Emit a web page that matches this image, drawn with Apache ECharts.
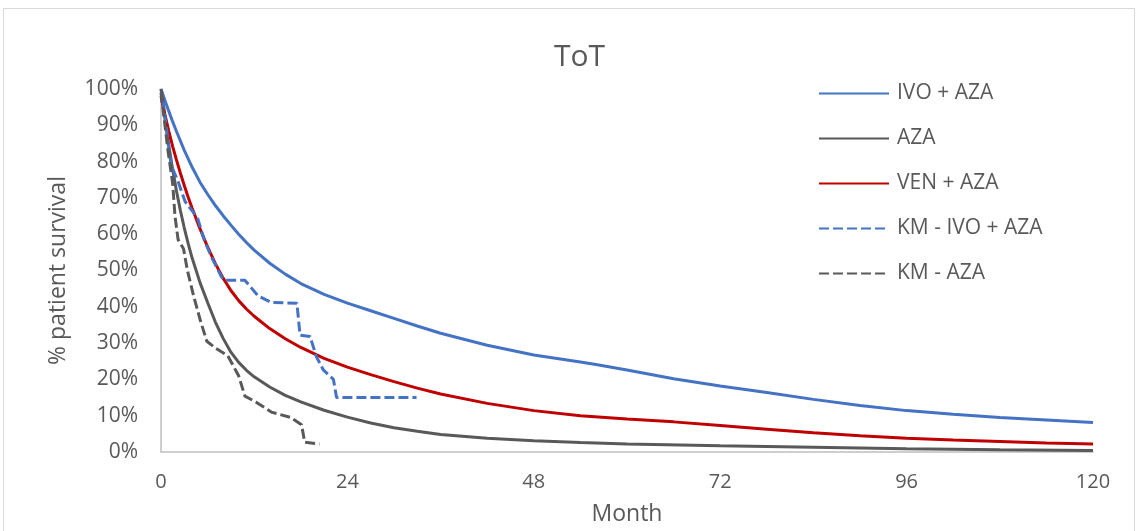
<!DOCTYPE html>
<html>
<head>
<meta charset="utf-8">
<script src="https://cdn.jsdelivr.net/npm/echarts@6/dist/echarts.min.js"></script>
<style>
html,body{margin:0;padding:0;background:#fff;}
#frame{position:absolute;left:3px;top:8px;width:1132px;height:540px;border:1px solid #d9d9d9;box-sizing:border-box;}
#chart{position:absolute;left:0;top:0;width:1139px;height:531px;}
</style>
</head>
<body>
<div id="frame"></div>
<div id="chart"></div>
<script>
// Month values (x) and % survival (y)
const ivoAzaMonths = [0,0.5,1,1.5,2,3,4,5,6,7,8,9,10,11,12,14,16,18,21,24,27,30,33,36,42,48,54,56,60,66,72,78,84,90,96,102,108,114,120];
const ivoAzaValues = [100,96.9,93.9,91,88.3,83.1,78.5,74.4,71,67.9,65.1,62.5,60,57.7,55.6,52,49,46.4,43.4,41,38.9,36.8,34.7,32.7,29.4,26.7,24.8,24.1,22.6,20.2,18.2,16.4,14.5,12.8,11.4,10.4,9.5,8.8,8.1];

const azaMonths = [0,0.5,1,1.5,2,2.5,3,3.5,4,5,6,7,8,9,10,11,12,14,16,18,21,24,27,30,33,36,42,48,54,60,72,84,96,108,120];
const azaValues = [100,92,84.5,77.8,71.8,66.5,61.7,57.4,53.5,46.8,41.2,35.8,31.3,27.5,24.7,22.5,20.7,17.9,15.6,13.8,11.5,9.6,8,6.7,5.7,4.8,3.8,3.1,2.6,2.2,1.7,1.3,0.9,0.6,0.4];

const venAzaMonths = [0,0.5,1,1.5,2,2.5,3,3.5,4,5,6,7,8,9,10,11,12,14,16,18,21,24,27,30,33,36,42,48,54,60,66,72,78,84,90,96,102,108,114,120];
const venAzaValues = [98,93,88.4,84.2,80.4,76.8,73.4,70.2,67.2,61.6,56.5,51.9,47.9,44.5,41.7,39.4,37.4,34,31.2,28.8,25.8,23.4,21.3,19.4,17.6,16,13.4,11.4,10,9.1,8.3,7.3,6.3,5.3,4.5,3.8,3.3,2.9,2.5,2.2];

const kmIvoAzaMonths = [0,0.3,1.3,2.2,3.1,4.7,5.6,6.5,7.8,8.2,10.8,12.5,14.2,17.5,17.9,19.2,20.0,20.9,22.2,22.6,32.9];
const kmIvoAzaValues = [97,96,79,74.5,69,64.5,58.2,53.7,48.2,47.3,47.3,43,41.2,41,32.2,31.8,26.3,22.6,20,15,15];

const kmAzaMonths = [0,0.9,1.5,1.8,2.2,2.9,3.4,4.2,5.1,5.9,7.1,8.6,10.0,10.8,12.2,14.2,16.7,18.1,18.5,20.4];
const kmAzaValues = [99,83,74,65,58.5,56,50,43,36,30.5,28.5,26.5,21,15.4,13.8,11,9.5,7.5,2.7,2.2];

const seriesNames = ['IVO + AZA','AZA','VEN + AZA','KM - IVO + AZA','KM - AZA'];

function pairs(xs, ys){ return xs.map((x,i)=>[x, ys[i]]); }

const font = 'Open Sans';
const txt = '#595959';

const chart = echarts.init(document.getElementById('chart'), null, {renderer:'canvas'});
chart.setOption({
  animation:false,
  backgroundColor:'transparent',
  title:{
    text:'ToT', left:549, top:37,
    textStyle:{fontFamily:font, fontSize:30, fontWeight:'normal', color:txt}
  },
  legend:{
    orient:'vertical', left:818, top:83, padding:0,
    icon:'inherit',
    itemWidth:70, itemHeight:14, itemGap:24,
    itemStyle:{opacity:0},
    textStyle:{fontFamily:font, fontSize:21, color:txt, padding:[0,0,0,3]},
    data:seriesNames
  },
  grid:{left:161, right:46, top:89, bottom:75, containLabel:false},
  xAxis:{
    type:'value', min:0, max:120, interval:24,
    name:'Month', nameLocation:'middle', nameGap:51,
    nameTextStyle:{fontFamily:font, fontSize:23, color:txt},
    axisLine:{show:true, lineStyle:{color:'#bfbfbf', width:1.5}},
    axisTick:{show:false},
    splitLine:{show:false},
    axisLabel:{fontFamily:font, fontSize:20, color:txt, margin:20}
  },
  yAxis:{
    type:'value', min:0, max:100, interval:10,
    name:'% patient survival', nameLocation:'middle', nameGap:91,
    nameTextStyle:{fontFamily:font, fontSize:23, color:txt},
    axisLine:{show:true, lineStyle:{color:'#bfbfbf', width:1.5}},
    axisTick:{show:false},
    splitLine:{show:false},
    axisLabel:{fontFamily:font, fontSize:21, color:txt, margin:23, formatter:'{value}%'}
  },
  series:[
    {name:seriesNames[0], type:'line', data:pairs(ivoAzaMonths, ivoAzaValues), smooth:false, symbol:'none', lineStyle:{color:'#4472C4', width:3}, itemStyle:{color:'#4472C4'}, z:3},
    {name:seriesNames[1], type:'line', data:pairs(azaMonths, azaValues), smooth:false, symbol:'none', lineStyle:{color:'#595959', width:3}, itemStyle:{color:'#595959'}, z:3},
    {name:seriesNames[2], type:'line', data:pairs(venAzaMonths, venAzaValues), smooth:false, symbol:'none', lineStyle:{color:'#C00000', width:3}, itemStyle:{color:'#C00000'}, z:3},
    {name:seriesNames[3], type:'line', data:pairs(kmIvoAzaMonths, kmIvoAzaValues), symbol:'none', lineStyle:{color:'#4472C4', width:3, type:[10,4]}, itemStyle:{color:'#4472C4'}, z:4},
    {name:seriesNames[4], type:'line', data:pairs(kmAzaMonths, kmAzaValues), symbol:'none', lineStyle:{color:'#595959', width:3, type:[10,4]}, itemStyle:{color:'#595959'}, z:4}
  ]
});
</script>
</body>
</html>
